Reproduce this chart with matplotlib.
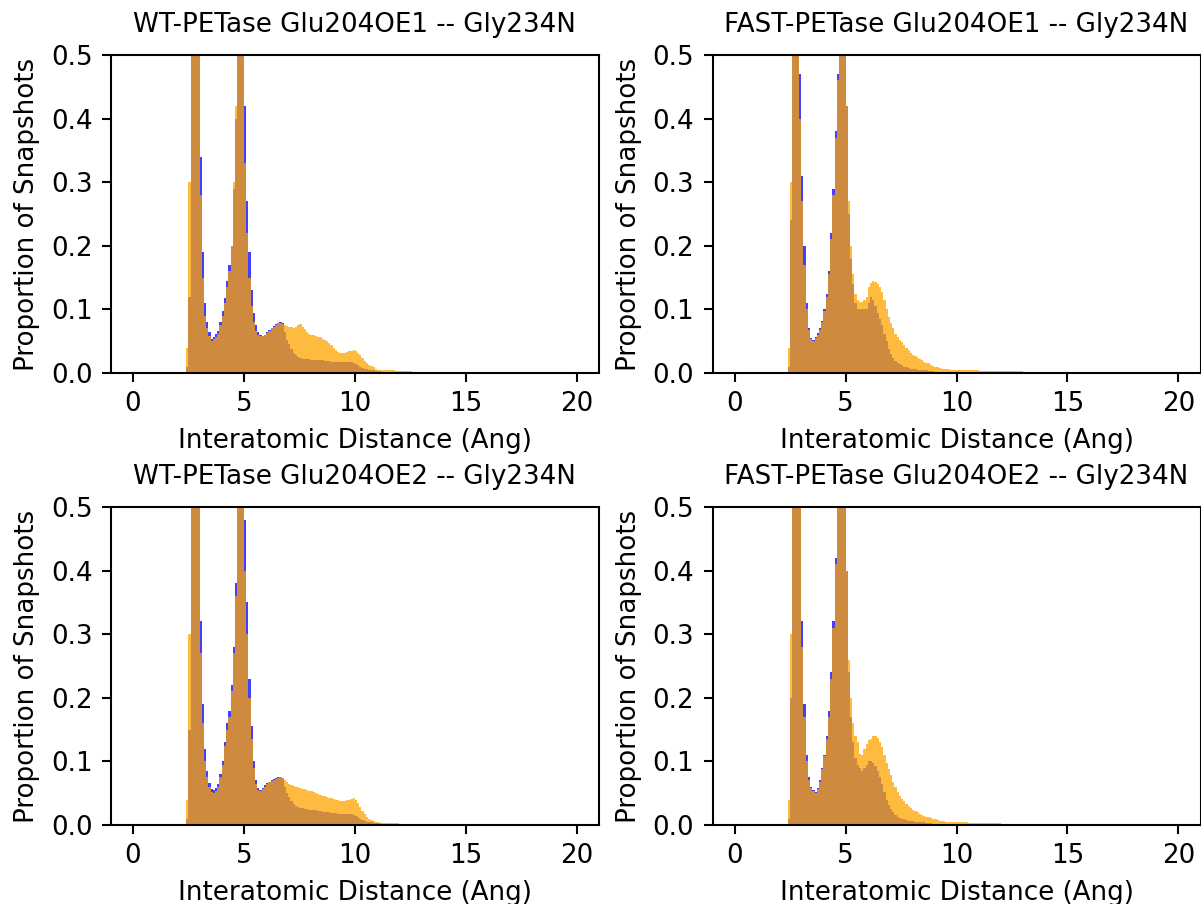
import numpy as np
import matplotlib
matplotlib.use("Agg")
import matplotlib.pyplot as plt

# Histogram bins (Angstrom): every series starts at the same left edge
bin_start = 2.4
bin_width = 0.1

titles = [
    "WT-PETase Glu204OE1 -- Gly234N",
    "FAST-PETase Glu204OE1 -- Gly234N",
    "WT-PETase Glu204OE2 -- Gly234N",
    "FAST-PETase Glu204OE2 -- Gly234N",
]

# Normalised snapshot densities per 0.1 A bin
wt_oe1_blue = [
    0.01, 0.12, 0.55, 1.2, 1.3, 0.58, 0.34, 0.19, 0.11, 0.08,
    0.064, 0.053, 0.057, 0.061, 0.066, 0.080, 0.097, 0.118, 0.145, 0.17,
    0.20, 0.29, 0.40, 0.6, 1.0, 0.85, 0.42, 0.27, 0.19, 0.13,
    0.095, 0.075, 0.065, 0.059, 0.058, 0.060, 0.064, 0.068, 0.071, 0.074,
    0.077, 0.079, 0.080, 0.078, 0.065, 0.052, 0.045, 0.038, 0.032, 0.028,
    0.025, 0.023, 0.022, 0.022, 0.022, 0.022, 0.021, 0.021, 0.020, 0.020,
    0.020, 0.020, 0.019, 0.019, 0.019, 0.018, 0.018, 0.018, 0.018, 0.018,
    0.018, 0.018, 0.018, 0.018, 0.018, 0.016, 0.014, 0.012, 0.010, 0.008,
    0.007, 0.006, 0.005, 0.004, 0.004, 0.003, 0.003, 0.003, 0.002, 0.002,
    0.002, 0.002, 0.002, 0.002, 0.002, 0.002, 0.002, 0.002, 0.002, 0.002,
    0.002, 0.002, 0.002, 0.002,
]
wt_oe1_orange = [
    0.04, 0.30, 0.85, 1.25, 1.1, 0.5, 0.28, 0.15, 0.09, 0.07,
    0.058, 0.050, 0.053, 0.057, 0.062, 0.075, 0.09, 0.11, 0.135, 0.16,
    0.20, 0.30, 0.42, 0.65, 1.05, 0.75, 0.33, 0.22, 0.15, 0.105,
    0.08, 0.066, 0.060, 0.058, 0.058, 0.060, 0.063, 0.066, 0.070, 0.073,
    0.076, 0.078, 0.079, 0.077, 0.075, 0.074, 0.073, 0.072, 0.071, 0.073,
    0.075, 0.077, 0.073, 0.069, 0.065, 0.062, 0.060, 0.059, 0.058, 0.057,
    0.056, 0.054, 0.052, 0.050, 0.047, 0.044, 0.040, 0.036, 0.033, 0.031,
    0.031, 0.032, 0.033, 0.034, 0.035, 0.036, 0.035, 0.032, 0.028, 0.023,
    0.019, 0.016, 0.013, 0.011, 0.009, 0.007, 0.005, 0.004, 0.004, 0.004,
    0.004, 0.004, 0.004, 0.004, 0.003, 0.003, 0.003, 0.003, 0.003, 0.003,
    0.003, 0.003, 0.002,
]
fast_oe1_blue = [
    0.01, 0.24, 0.9, 1.3, 1.1, 0.47, 0.31, 0.20, 0.11, 0.07,
    0.055, 0.052, 0.057, 0.063, 0.070, 0.082, 0.10, 0.125, 0.16, 0.22,
    0.29, 0.38, 0.47, 0.7, 1.0, 0.78, 0.42, 0.25, 0.18, 0.14,
    0.11, 0.10, 0.10, 0.10, 0.10, 0.10, 0.11, 0.12, 0.115, 0.105,
    0.095, 0.085, 0.075, 0.062, 0.050, 0.038, 0.030, 0.024, 0.019, 0.016,
    0.014, 0.012, 0.010, 0.009, 0.008, 0.007, 0.006, 0.006, 0.005, 0.005,
    0.004, 0.004, 0.004, 0.003, 0.003, 0.003, 0.002, 0.002, 0.002, 0.002,
    0.002, 0.002, 0.002, 0.002, 0.002, 0.002, 0.001, 0.001, 0.001, 0.001,
]
fast_oe1_orange = [
    0.04, 0.30, 0.95, 1.3, 1.1, 0.40, 0.27, 0.17, 0.10, 0.068,
    0.053, 0.050, 0.055, 0.060, 0.068, 0.080, 0.097, 0.12, 0.155, 0.21,
    0.28, 0.37, 0.46, 0.68, 1.0, 0.8, 0.42, 0.27, 0.20, 0.155,
    0.125, 0.115, 0.112, 0.112, 0.115, 0.12, 0.135, 0.142, 0.145, 0.143,
    0.14, 0.135, 0.128, 0.115, 0.10, 0.088, 0.078, 0.070, 0.062, 0.057,
    0.052, 0.048, 0.044, 0.040, 0.036, 0.032, 0.028, 0.026, 0.024, 0.022,
    0.020, 0.018, 0.016, 0.015, 0.013, 0.011, 0.010, 0.009, 0.008, 0.007,
    0.007, 0.006, 0.006, 0.005, 0.005, 0.005, 0.004, 0.004, 0.004, 0.004,
    0.004, 0.004, 0.004, 0.004, 0.004, 0.004, 0.003, 0.003, 0.003, 0.003,
    0.003, 0.003, 0.003, 0.003, 0.003, 0.003, 0.003, 0.003, 0.003, 0.003,
    0.003, 0.003, 0.003, 0.003, 0.003, 0.003, 0.002, 0.002, 0.002, 0.002,
    0.002, 0.002, 0.002, 0.002, 0.002, 0.002, 0.002, 0.002, 0.002,
]
wt_oe2_blue = [
    0.01, 0.15, 0.6, 1.2, 1.3, 0.62, 0.32, 0.19, 0.12, 0.085,
    0.066, 0.056, 0.055, 0.058, 0.065, 0.080, 0.10, 0.13, 0.16, 0.18,
    0.22, 0.28, 0.38, 0.6, 1.0, 0.95, 0.48, 0.35, 0.23, 0.155,
    0.10, 0.07, 0.058, 0.055, 0.058, 0.063, 0.066, 0.068, 0.070, 0.072,
    0.074, 0.075, 0.076, 0.074, 0.060, 0.050, 0.044, 0.038, 0.033, 0.030,
    0.028, 0.027, 0.026, 0.025, 0.025, 0.024, 0.024, 0.023, 0.023, 0.022,
    0.022, 0.021, 0.021, 0.020, 0.020, 0.019, 0.019, 0.019, 0.018, 0.018,
    0.018, 0.018, 0.017, 0.017, 0.017, 0.016, 0.014, 0.012, 0.010, 0.008,
    0.006, 0.005, 0.004, 0.004, 0.003, 0.003, 0.003, 0.003, 0.002, 0.002,
    0.002, 0.002, 0.002, 0.002, 0.002, 0.001, 0.001, 0.001, 0.001, 0.001,
    0.001, 0.001, 0.001, 0.001, 0.001, 0.001, 0.001, 0.001, 0.001, 0.001,
    0.001, 0.001, 0.001, 0.001, 0.001, 0.001,
]
wt_oe2_orange = [
    0.04, 0.30, 0.8, 1.25, 1.2, 0.5, 0.27, 0.16, 0.10, 0.075,
    0.060, 0.052, 0.050, 0.054, 0.060, 0.075, 0.095, 0.125, 0.15, 0.17,
    0.21, 0.27, 0.36, 0.58, 1.05, 0.85, 0.40, 0.30, 0.20, 0.135,
    0.09, 0.065, 0.055, 0.053, 0.056, 0.060, 0.064, 0.067, 0.069, 0.071,
    0.073, 0.074, 0.075, 0.074, 0.070, 0.067, 0.065, 0.063, 0.061, 0.060,
    0.059, 0.058, 0.057, 0.056, 0.055, 0.054, 0.053, 0.052, 0.050, 0.049,
    0.047, 0.046, 0.045, 0.044, 0.043, 0.042, 0.041, 0.040, 0.039, 0.038,
    0.038, 0.038, 0.039, 0.040, 0.041, 0.042, 0.040, 0.035, 0.028, 0.022,
    0.017, 0.013, 0.010, 0.008, 0.006, 0.005, 0.004, 0.003, 0.003, 0.003,
    0.003, 0.003, 0.003, 0.003, 0.003, 0.003, 0.002, 0.002, 0.002, 0.002,
    0.002, 0.002, 0.002,
]
fast_oe2_blue = [
    0.01, 0.20, 0.85, 1.3, 1.15, 0.57, 0.32, 0.19, 0.11, 0.075,
    0.060, 0.055, 0.052, 0.058, 0.070, 0.090, 0.11, 0.14, 0.18, 0.24,
    0.32, 0.42, 0.7, 1.0, 1.2, 0.9, 0.40, 0.24, 0.17, 0.13,
    0.105, 0.095, 0.090, 0.085, 0.090, 0.095, 0.10, 0.10, 0.097, 0.092,
    0.085, 0.075, 0.064, 0.052, 0.040, 0.032, 0.025, 0.020, 0.016, 0.013,
    0.011, 0.010, 0.009, 0.008, 0.007, 0.006, 0.006, 0.005, 0.005, 0.004,
    0.004, 0.004, 0.003, 0.003, 0.003, 0.002, 0.002, 0.002, 0.002, 0.002,
    0.002, 0.002, 0.002, 0.002, 0.002, 0.002, 0.001, 0.001, 0.001, 0.001,
    0.001, 0.001, 0.001, 0.001, 0.001, 0.001, 0.001, 0.001, 0.001, 0.001,
    0.001, 0.001, 0.001, 0.001, 0.001, 0.001,
]
fast_oe2_orange = [
    0.04, 0.30, 0.95, 1.3, 1.1, 0.5, 0.28, 0.17, 0.10, 0.07,
    0.058, 0.053, 0.050, 0.056, 0.068, 0.088, 0.108, 0.135, 0.17, 0.23,
    0.31, 0.41, 0.68, 0.98, 1.15, 0.85, 0.40, 0.26, 0.20, 0.16,
    0.14, 0.13, 0.112, 0.110, 0.12, 0.128, 0.133, 0.136, 0.14, 0.14,
    0.137, 0.13, 0.122, 0.11, 0.098, 0.088, 0.078, 0.068, 0.060, 0.052,
    0.046, 0.041, 0.037, 0.033, 0.030, 0.027, 0.024, 0.022, 0.020, 0.018,
    0.016, 0.014, 0.013, 0.012, 0.011, 0.010, 0.009, 0.008, 0.007, 0.006,
    0.006, 0.005, 0.005, 0.005, 0.005, 0.005, 0.005, 0.004, 0.004, 0.004,
    0.004, 0.003, 0.003, 0.003, 0.003, 0.003, 0.003, 0.003, 0.003, 0.003,
    0.003, 0.003, 0.003, 0.003, 0.003, 0.003, 0.002, 0.002, 0.002, 0.002,
    0.002, 0.002, 0.002, 0.002, 0.002, 0.002, 0.002, 0.002, 0.002, 0.002,
    0.002, 0.002, 0.002, 0.002, 0.002, 0.001, 0.001, 0.001, 0.001, 0.001,
    0.001, 0.001, 0.001, 0.001,
]

panels = [
    (wt_oe1_blue, wt_oe1_orange),
    (fast_oe1_blue, fast_oe1_orange),
    (wt_oe2_blue, wt_oe2_orange),
    (fast_oe2_blue, fast_oe2_orange),
]

x_ticks = [0, 5, 10, 15, 20]
y_ticks = [0.0, 0.1, 0.2, 0.3, 0.4, 0.5]
x_range = (-1, 21)
y_range = (0, 0.5)

W, H, DPI = 1201, 904, 188
fig = plt.figure(figsize=(W / DPI, H / DPI), dpi=DPI)

# axes boxes in pixels: (left, bottom), shared width and height
ax_w, ax_h = 488.0, 318.0
boxes = [
    (110.8, 531.0), (712.5, 531.0),
    (110.8, 79.0), (712.5, 79.0),
]


def draw_hist(ax, values, color):
    vals = np.asarray(values, dtype=float)
    edges = bin_start + bin_width * np.arange(len(vals) + 1)
    ax.hist(edges[:-1], bins=edges, weights=vals, histtype="stepfilled",
            color=color, alpha=0.75, linewidth=0)


for (left, bottom), title, (blue, orange) in zip(boxes, titles, panels):
    ax = fig.add_axes([left / W, bottom / H, ax_w / W, ax_h / H])
    draw_hist(ax, blue, "blue")
    draw_hist(ax, orange, "orange")
    ax.set_xlim(*x_range)
    ax.set_ylim(*y_range)
    ax.set_xticks(x_ticks)
    ax.set_yticks(y_ticks)
    ax.set_title(title, fontsize=10, pad=9)
    ax.set_xlabel("Interatomic Distance (Ang)")
    ax.set_ylabel("Proportion of Snapshots")

fig.savefig("out.png", dpi=DPI)
